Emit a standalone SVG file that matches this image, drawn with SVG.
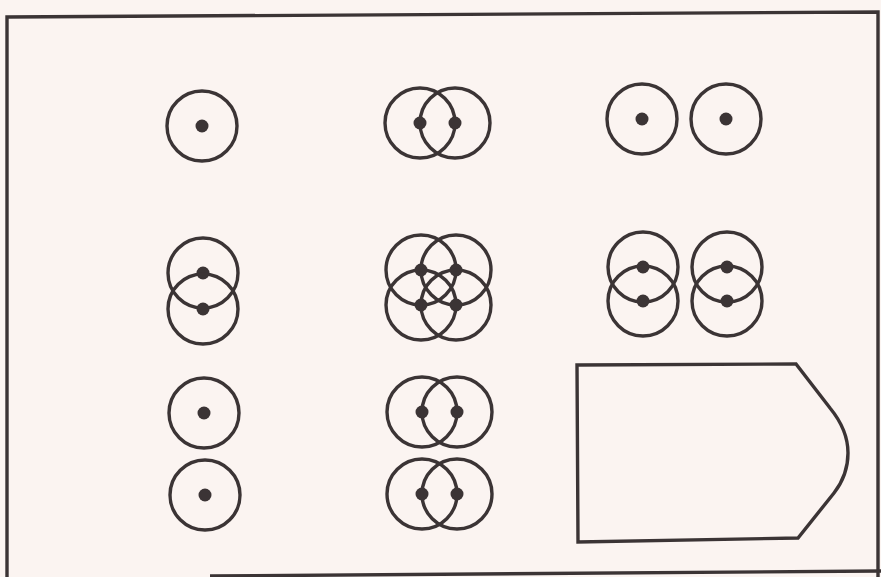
<svg xmlns="http://www.w3.org/2000/svg" width="881" height="577" viewBox="0 0 881 577">
<style>
.o{fill:none;stroke:#3b3435;stroke-width:3.4}
.d{fill:#3b3435}
.f{fill:none;stroke:#3b3435;stroke-width:3.4}
</style>
<defs>
<g id="atom"><circle class="o" r="35"/><circle class="d" r="6.5"/></g>
</defs>
<rect width="881" height="577" fill="#fbf4f1"/>
<g id="frame">
<polyline class="f" points="7,577 7,17 878,12 878,577"/>
<line class="f" x1="210" y1="576" x2="881" y2="571"/>
</g>
<g id="n1"><use href="#atom" x="202" y="126"/></g>
<g id="n2"><use href="#atom" x="420" y="123"/><use href="#atom" x="455" y="123"/></g>
<g id="n3"><use href="#atom" x="642" y="119"/><use href="#atom" x="726" y="119"/></g>
<g id="n4"><use href="#atom" x="203" y="273"/><use href="#atom" x="203" y="309"/></g>
<g id="n5"><use href="#atom" x="421" y="270"/><use href="#atom" x="456" y="270"/><use href="#atom" x="421" y="305"/><use href="#atom" x="456" y="305"/></g>
<g id="n6"><use href="#atom" x="643" y="267"/><use href="#atom" x="643" y="301"/><use href="#atom" x="727" y="267"/><use href="#atom" x="727" y="301"/></g>
<g id="n7"><use href="#atom" x="204" y="413"/><use href="#atom" x="205" y="495"/></g>
<g id="n8"><use href="#atom" x="422" y="412"/><use href="#atom" x="457" y="412"/><use href="#atom" x="422" y="494"/><use href="#atom" x="457" y="494"/></g>
<g id="n9"><path class="o" d="M577,365 L796,364 L830,408 Q848,430 848,453 Q848,475 834,493 L798,538 L578,542 Z"/></g>
</svg>
